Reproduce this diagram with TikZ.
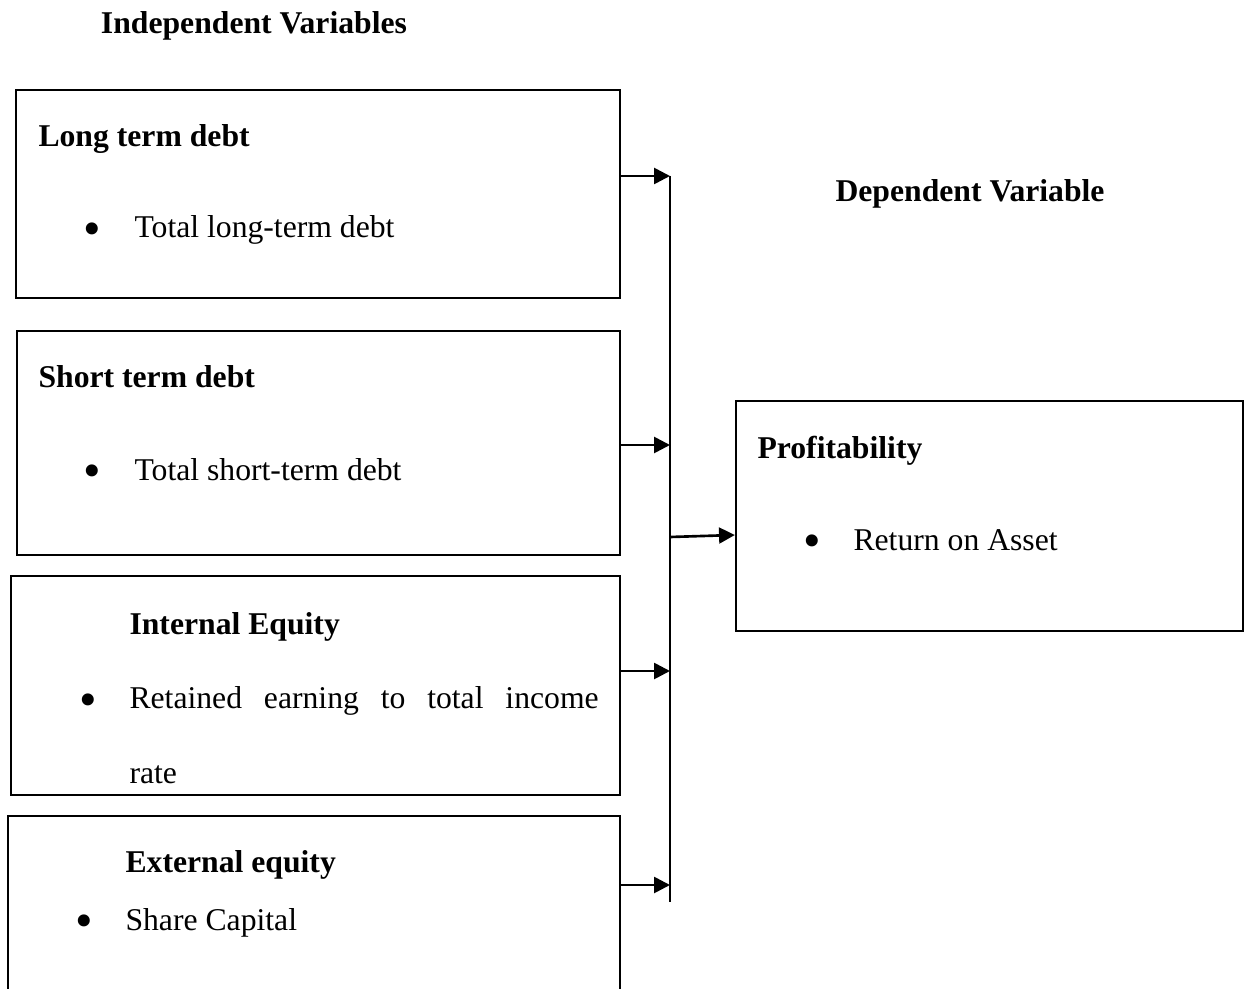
\documentclass[tikz,border=0pt]{standalone}
\usepackage{fontspec}
\setmainfont{Liberation Serif}
\usepackage{tikz}
\usetikzlibrary{arrows.meta, positioning, fit, calc}
\definecolor{boxline}{HTML}{000000}
\tikzset{
  varbox/.style={draw=boxline, line width=0.85pt, inner sep=0pt},
  headtxt/.style={font=\fontsize{12}{14}\selectfont\bfseries, inner sep=0pt},
  itemtxt/.style={font=\fontsize{12}{14}\selectfont, inner sep=0pt, anchor=base west},
  bultxt/.style={font=\fontsize{19}{20}\selectfont, inner sep=0pt, anchor=center},
  arr/.style={-{Triangle[length=6pt, width=6pt]}, line width=1pt, black},
  busline/.style={line width=0.85pt, black}
}

\begin{document}
\begin{tikzpicture}[x=0.3788pt, y=-0.3788pt]
\useasboundingbox (0,0) rectangle (1249,989);

% ===== HEADINGS =====
\node[headtxt, anchor=base] (IVH) at (254, 34)  {Independent Variables};
\node[headtxt, anchor=base] (DVH) at (970, 202) {Dependent Variable};

% ===== INDEPENDENT VARIABLE BOXES =====
\node[varbox, fit={(16,90) (620,298)}]   (LTD) {};
\node[varbox, fit={(17,331) (620,555)}]  (STD) {};
\node[varbox, fit={(11,576) (620,795)}]  (IEQ) {};
\node[varbox, fit={(8,816) (620,1010)}]  (EEQ) {};

% ===== DEPENDENT VARIABLE BOX =====
\node[varbox, fit={(736,401) (1243,631)}] (PRF) {};

% ===== BOX TEXTS =====
\node[headtxt, anchor=base west] (LTDt) at (38, 147) {Long term debt};
\node[bultxt]  (LTDb) at (92, 234)  {\textbullet};
\node[itemtxt] (LTDi) at (134, 238) {Total long-term debt};

\node[headtxt, anchor=base west] (STDt) at (38, 388) {Short term debt};
\node[bultxt]  (STDb) at (92, 476)  {\textbullet};
\node[itemtxt] (STDi) at (134, 480) {Total short-term debt};

\node[headtxt, anchor=base west] (IEQt) at (129, 634) {Internal Equity};
\node[bultxt]  (IEQb) at (88, 705)  {\textbullet};
\node[itemtxt] (IEQi) at (129, 708) {\makebox[177.7pt][s]{Retained earning to total income}};
\node[itemtxt] (IEQr) at (129, 783) {rate};

\node[headtxt, anchor=base west] (EEQt) at (125, 872) {External equity};
\node[bultxt]  (EEQb) at (84, 926)  {\textbullet};
\node[itemtxt] (EEQi) at (125, 930) {Share Capital};

\node[headtxt, anchor=base west] (PRFt) at (757, 458) {Profitability};
\node[bultxt]  (PRFb) at (812, 546) {\textbullet};
\node[itemtxt] (PRFi) at (853, 550) {Return on Asset};

% ===== BUS LINE =====
\coordinate (b1)  at (670, 176);
\coordinate (b2)  at (670, 445);
\coordinate (bm)  at (670, 537);
\coordinate (b3)  at (670, 671);
\coordinate (b4)  at (670, 885);
\coordinate (bend) at (670, 902);
\draw[busline] (b1) -- (bend);

% ===== ARROWS =====
\draw[arr] (LTD.east |- b1) -- (b1);
\draw[arr] (STD.east |- b2) -- (b2);
\draw[arr] (IEQ.east |- b3) -- (b3);
\draw[arr] (EEQ.east |- b4) -- (b4);
\draw[arr] (bm) -- (PRF.west |- 0,535);

\end{tikzpicture}
\end{document}
